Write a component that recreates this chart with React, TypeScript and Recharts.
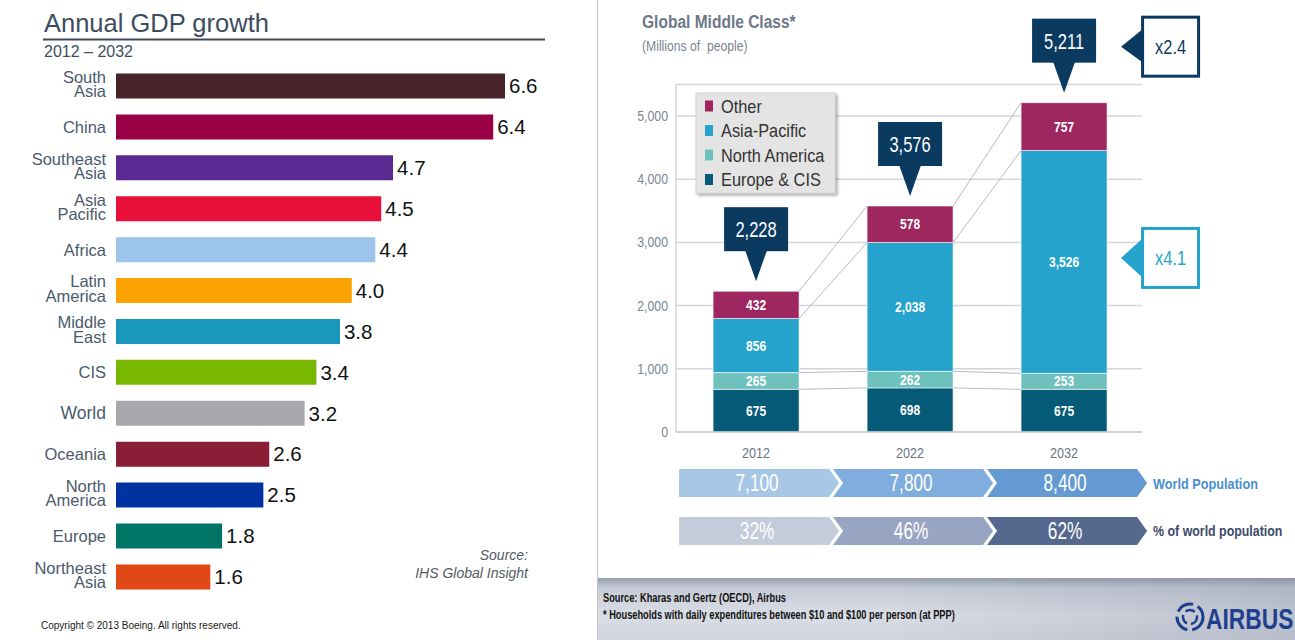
import React from 'react';
import {
  BarChart,
  Bar,
  XAxis,
  YAxis,
  Cell,
  LabelList,
  ComposedChart,
  CartesianGrid,
  ReferenceLine,
} from 'recharts';

// ---- Left panel: Annual GDP growth 2012-2032 ----
const REGIONS = [
  'South\nAsia',
  'China',
  'Southeast\nAsia',
  'Asia\nPacific',
  'Africa',
  'Latin\nAmerica',
  'Middle\nEast',
  'CIS',
  'World',
  'Oceania',
  'North\nAmerica',
  'Europe',
  'Northeast\nAsia',
];
const GROWTH = [6.6, 6.4, 4.7, 4.5, 4.4, 4.0, 3.8, 3.4, 3.2, 2.6, 2.5, 1.8, 1.6];
const REGION_COLORS = [
  '#48242a', '#9a0046', '#5a2a92', '#e8103a', '#9dc4ea', '#f9a200', '#1a97bd',
  '#79b800', '#a7a9ac', '#8a1e36', '#0033a1', '#007565', '#e04915',
];

// ---- Right panel: Global Middle Class (millions) ----
const YEARS = ['2012', '2022', '2032'];
const EUROPE_CIS = [675, 698, 675];
const NORTH_AMERICA = [265, 262, 253];
const ASIA_PACIFIC = [856, 2038, 3526];
const OTHER = [432, 578, 757];
const TOTALS = [2228, 3576, 5211];
const WORLD_POP = [7100, 7800, 8400];
const SHARE_OF_WORLD = [32, 46, 62];
const TOTAL_MULTIPLIER = 'x2.4';
const ASIA_MULTIPLIER = 'x4.1';

// narrow look: Liberation Sans squeezed horizontally
const ARIAL = "'Liberation Sans', Arial, sans-serif";
const NAVY = '#0b3a60';
const AP_BLUE = '#25a3cc';
const POP_COLORS = ['#a7c7e7', '#7fadde', '#6499d2'];
const SHARE_COLORS = ['#c4cbdb', '#98a5c2', '#55698f'];

const fmt = (v: any) => Number(v).toLocaleString('en-US');

const gdpData = REGIONS.map((region, i) => ({ region, growth: GROWTH[i] }));
const mcData = YEARS.map((year, i) => ({
  x: i,
  year,
  europe: EUROPE_CIS[i],
  na: NORTH_AMERICA[i],
  ap: ASIA_PACIFIC[i],
  other: OTHER[i],
}));

// stack tops used for the connector lines between bars
const LEVELS = YEARS.map((_, i) => [
  EUROPE_CIS[i],
  EUROPE_CIS[i] + NORTH_AMERICA[i],
  EUROPE_CIS[i] + NORTH_AMERICA[i] + ASIA_PACIFIC[i],
  TOTALS[i],
]);

const BAR_SIZE = 86;
const PX_PER_UNIT = 154;
const HALF_BAR = BAR_SIZE / 2 / PX_PER_UNIT;

function NText({ x, y, sx = 0.82, children, ...rest }: any) {
  return (
    <text
      transform={`translate(${x},${y}) scale(${sx},1)`}
      fontFamily={ARIAL}
      style={{ whiteSpace: 'pre' }}
      {...rest}
    >
      {children}
    </text>
  );
}

function box(props: any) {
  const vb = props.viewBox || {};
  return {
    x: props.x ?? vb.x,
    y: props.y ?? vb.y,
    width: props.width ?? vb.width,
    height: props.height ?? vb.height,
  };
}

function RegionTick(props: any) {
  const { x, y, payload } = props;
  const lines = String(payload.value).split('\n');
  const isWorld = payload.value === 'World';
  if (lines.length === 1) {
    return (
      <text x={x} y={y + 6} textAnchor="end" fontSize={isWorld ? 17.5 : 16.5}
        fill="#4a5a6b" fontFamily={ARIAL}>
        {lines[0]}
      </text>
    );
  }
  return (
    <text x={x} textAnchor="end" fontSize={16.5} fill="#4a5a6b" fontFamily={ARIAL}>
      <tspan x={x} y={y - 3}>{lines[0]}</tspan>
      <tspan x={x} y={y + 11.3}>{lines[1]}</tspan>
    </text>
  );
}

function YTick(props: any) {
  const { x, y, payload } = props;
  return (
    <NText x={x} y={y + 5} sx={0.88} textAnchor="end" fontSize={14} fill="#7b8594">
      {fmt(payload.value)}
    </NText>
  );
}

function chevron(left: number, top: number, bottom: number, width: number, notch: boolean) {
  const mid = (top + bottom) / 2;
  const r = left + width;
  const pts = [
    `${left},${top}`,
    `${r},${top}`,
    `${r + 10},${mid}`,
    `${r},${bottom}`,
    `${left},${bottom}`,
  ];
  if (notch) pts.push(`${left + 10},${mid}`);
  return pts.join(' ');
}

function YearTick(props: any) {
  const { x, y, payload } = props;
  const i = payload.value as number;
  const left = x - 77;
  return (
    <g>
      <NText x={x} y={y + 26} sx={0.9} textAnchor="middle" fontSize={14} fill="#6c7584">
        {YEARS[i]}
      </NText>
      <polygon points={chevron(left, y + 37, y + 65, 150, i > 0)} fill={POP_COLORS[i]} />
      <NText x={x + 1} y={y + 59} sx={0.75} textAnchor="middle" fontSize={23} fill="#fff">
        {fmt(WORLD_POP[i])}
      </NText>
      <polygon points={chevron(left, y + 85, y + 113, 150, i > 0)} fill={SHARE_COLORS[i]} />
      <NText x={x + 1} y={y + 107} sx={0.75} textAnchor="middle" fontSize={23} fill="#fff">
        {SHARE_OF_WORLD[i]}%
      </NText>
      {i === YEARS.length - 1 && (
        <g>
          <NText x={x + 89} y={y + 57} sx={0.82} fontSize={15.5} fontWeight={700} fill="#4b8fd0">
            World Population
          </NText>
          <NText x={x + 89} y={y + 104} sx={0.8} fontSize={15.5} fontWeight={700} fill="#3c4b6b">
            % of world population
          </NText>
        </g>
      )}
    </g>
  );
}

function segLabel(values: number[]) {
  return function SegLabel(props: any) {
    const { x, y, width, height } = box(props);
    const i = props.index as number;
    return (
      <NText x={x + width / 2} y={y + height / 2 + 5} sx={0.83} textAnchor="middle"
        fontSize={14.5} fontWeight={700} fill="#fff">
        {fmt(values[i])}
      </NText>
    );
  };
}

function TotalCallout(props: any) {
  const { x, y, width } = box(props);
  const i = props.index as number;
  const cx = x + width / 2;
  const tip = y - 10;
  const bBottom = tip - 30;
  const bTop = bBottom - 44;
  const right = x + width;
  return (
    <g>
      <rect x={cx - 32} y={bTop} width={64} height={44} fill={NAVY} />
      <polygon points={`${cx - 11},${bBottom - 1} ${cx + 11},${bBottom - 1} ${cx},${tip}`} fill={NAVY} />
      <NText x={cx} y={bTop + 30} sx={0.75} textAnchor="middle" fill="#fff" fontSize={22}>
        {fmt(TOTALS[i])}
      </NText>
      {i === TOTALS.length - 1 && (
        <g>
          <polygon points={`${right + 14},${y - 56} ${right + 36},${y - 74} ${right + 36},${y - 40}`} fill={NAVY} />
          <rect x={right + 35.5} y={y - 85.5} width={56} height={59} fill="#fff" stroke={NAVY} strokeWidth={3} />
          <NText x={right + 63.5} y={y - 49} sx={0.82} textAnchor="middle" fill={NAVY} fontSize={20}>
            {TOTAL_MULTIPLIER}
          </NText>
        </g>
      )}
    </g>
  );
}

function AsiaCallout(props: any) {
  const { x, y, width, height } = box(props);
  const i = props.index as number;
  if (i !== ASIA_PACIFIC.length - 1) return null;
  const c = y + height / 2;
  const right = x + width;
  return (
    <g>
      <polygon points={`${right + 14},${c - 4} ${right + 36},${c - 24} ${right + 36},${c + 16}`} fill={AP_BLUE} />
      <rect x={right + 35.5} y={c - 33.5} width={56} height={59} fill="#fff" stroke={AP_BLUE} strokeWidth={3} />
      <NText x={right + 63.5} y={c + 3} sx={0.82} textAnchor="middle" fill={AP_BLUE} fontSize={20}>
        {ASIA_MULTIPLIER}
      </NText>
    </g>
  );
}

const LEGEND = [
  { name: 'Other', color: '#9e2760' },
  { name: 'Asia-Pacific', color: AP_BLUE },
  { name: 'North America', color: '#6fc1bd' },
  { name: 'Europe & CIS', color: '#055b77' },
];

export default function App() {
  return (
    <div style={{ position: 'absolute', left: 0, top: 0, width: 1295, height: 640, background: '#fff', overflow: 'hidden' }}>
      {/* Left: GDP growth */}
      <div style={{ position: 'absolute', left: 0, top: 0 }}>
        <BarChart
          layout="vertical"
          width={560}
          height={640}
          data={gdpData}
          margin={{ top: 65.5, right: 31.4, bottom: 42.7, left: 0 }}
        >
          <XAxis type="number" domain={[0, 7]} hide />
          <YAxis
            type="category"
            dataKey="region"
            width={116}
            axisLine={false}
            tickLine={false}
            tickSize={0}
            tickMargin={10}
            interval={0}
            tick={<RegionTick />}
          />
          <Bar dataKey="growth" barSize={25} isAnimationActive={false}>
            {gdpData.map((d, i) => (
              <Cell key={d.region} fill={REGION_COLORS[i]} />
            ))}
            <LabelList
              dataKey="growth"
              position="right"
              offset={4}
              fill="#111"
              fontSize={20.5}
              fontFamily={ARIAL}
              formatter={(v: any) => Number(v).toFixed(1)}
            />
          </Bar>
        </BarChart>
      </div>

      {/* Right: global middle class */}
      <div style={{ position: 'absolute', left: 598, top: 0 }}>
        <ComposedChart
          width={697}
          height={578}
          data={mcData}
          margin={{ top: 84.4, right: 153, bottom: 6, left: 0 }}
        >
          <CartesianGrid vertical={false} stroke="#d3d6db" strokeWidth={1.5} />
          <XAxis
            type="number"
            dataKey="x"
            domain={[-0.52, 2.506]}
            ticks={[0, 1, 2]}
            interval={0}
            height={140}
            tickLine={false}
            tickSize={0}
            tickMargin={0}
            axisLine={{ stroke: '#c9ccd2', strokeWidth: 1.5 }}
            tick={<YearTick />}
            allowDataOverflow
          />
          <YAxis
            domain={[0, 5500]}
            ticks={[0, 1000, 2000, 3000, 4000, 5000]}
            width={78}
            tickLine={false}
            tickSize={0}
            tickMargin={8}
            axisLine={{ stroke: '#d3d6db', strokeWidth: 1.5 }}
            tick={<YTick />}
          />
          <Bar dataKey="europe" stackId="s" fill="#055b77" barSize={BAR_SIZE} stroke="#fff" strokeWidth={0.6} isAnimationActive={false}>
            <LabelList dataKey="europe" content={segLabel(EUROPE_CIS)} />
          </Bar>
          <Bar dataKey="na" stackId="s" fill="#6fc1bd" barSize={BAR_SIZE} stroke="#fff" strokeWidth={0.6} isAnimationActive={false}>
            <LabelList dataKey="na" content={segLabel(NORTH_AMERICA)} />
          </Bar>
          <Bar dataKey="ap" stackId="s" fill={AP_BLUE} barSize={BAR_SIZE} stroke="#fff" strokeWidth={0.6} isAnimationActive={false}>
            <LabelList dataKey="ap" content={segLabel(ASIA_PACIFIC)} />
            <LabelList dataKey="ap" content={<AsiaCallout />} />
          </Bar>
          <Bar dataKey="other" stackId="s" fill="#9e2760" barSize={BAR_SIZE} stroke="#fff" strokeWidth={0.6} isAnimationActive={false}>
            <LabelList dataKey="other" content={segLabel(OTHER)} />
            <LabelList dataKey="other" content={<TotalCallout />} />
          </Bar>
          {YEARS.slice(0, -1).map((_, i) =>
            LEVELS[i].map((lv, k) => (
              <ReferenceLine
                key={`c${i}-${k}`}
                segment={[
                  { x: i + HALF_BAR, y: lv },
                  { x: i + 1 - HALF_BAR, y: LEVELS[i + 1][k] },
                ]}
                stroke="#a3a8b0"
                strokeWidth={0.8}
                ifOverflow="visible"
              />
            )),
          )}
        </ComposedChart>
      </div>

      {/* Titles, notes, legend and footer */}
      <svg width={1295} height={640} style={{ position: 'absolute', left: 0, top: 0, pointerEvents: 'none' }}>
        <defs>
          <linearGradient id="foot" x1="0" y1="0" x2="0" y2="1">
            <stop offset="0" stopColor="#959daf" />
            <stop offset="0.16" stopColor="#c6ccd7" />
            <stop offset="0.6" stopColor="#d9dde5" />
            <stop offset="1" stopColor="#d0d5de" />
          </linearGradient>
          <linearGradient id="footSide" x1="0" y1="0" x2="1" y2="0">
            <stop offset="0.4" stopColor="#7a8498" stopOpacity={0} />
            <stop offset="1" stopColor="#7a8498" stopOpacity={0.3} />
          </linearGradient>
          <filter id="shadow" x="-10%" y="-10%" width="130%" height="130%">
            <feDropShadow dx="2" dy="2" stdDeviation="1.5" floodColor="#000" floodOpacity="0.35" />
          </filter>
        </defs>

        {/* left header */}
        <text x={44} y={31.5} fontSize={25.5} fill="#3d4d5e" fontFamily={ARIAL}>Annual GDP growth</text>
        <line x1={43} x2={545} y1={39.5} y2={39.5} stroke="#3a4a5a" strokeWidth={2} />
        <text x={44} y={57} fontSize={16} fill="#3d4d5e" fontFamily={ARIAL}>2012 – 2032</text>
        <text x={528} y={560} textAnchor="end" fontSize={14} fontStyle="italic" fill="#555b63" fontFamily={ARIAL}>Source:</text>
        <text x={528} y={578} textAnchor="end" fontSize={14} fontStyle="italic" fill="#555b63" fontFamily={ARIAL}>IHS Global Insight</text>
        <text x={41} y={629} fontSize={10} fill="#1a1a1a" fontFamily={ARIAL}>Copyright © 2013 Boeing. All rights reserved.</text>

        {/* separator */}
        <line x1={597.5} x2={597.5} y1={0} y2={640} stroke="#c4c6ca" strokeWidth={1} />

        {/* right header */}
        <NText x={642} y={28} sx={0.84} fontSize={18.5} fontWeight={700} fill="#6d7888">Global Middle Class*</NText>
        <NText x={642} y={51} sx={0.87} fontSize={14} fill="#7d8593">(Millions of  people)</NText>

        {/* legend */}
        <rect x={696} y={93} width={139} height={100} fill="#e4e4e4" stroke="#d2d2d2" filter="url(#shadow)" />
        {LEGEND.map((l, i) => (
          <g key={l.name}>
            <rect x={705} y={100.5 + i * 24.5} width={8} height={11} fill={l.color} />
            <NText x={721} y={112.5 + i * 24.5} sx={0.86} fontSize={19} fill="#333">{l.name}</NText>
          </g>
        ))}

        {/* footer */}
        <rect x={598} y={578} width={697} height={62} fill="url(#foot)" />
        <rect x={598} y={578} width={697} height={62} fill="url(#footSide)" />
        <NText x={603} y={602} sx={0.74} fontSize={12.5} fontWeight={700} fill="#111">Source: Kharas and Gertz (OECD), Airbus</NText>
        <NText x={603} y={619} sx={0.74} fontSize={12.5} fontWeight={700} fill="#111">* Households with daily expenditures between $10 and $100 per person (at PPP)</NText>
        <g>
          <circle cx={1190} cy={617} r={13} fill="none" stroke="#1d3f8e" strokeWidth={3} strokeDasharray="18 5" />
          <circle cx={1190} cy={617} r={7} fill="none" stroke="#1d3f8e" strokeWidth={2.5} strokeDasharray="10 4" />
          <NText x={1206} y={629} sx={0.76} fontSize={30} fontWeight={700} fill="#1d3f8e">AIRBUS</NText>
        </g>
      </svg>
    </div>
  );
}
